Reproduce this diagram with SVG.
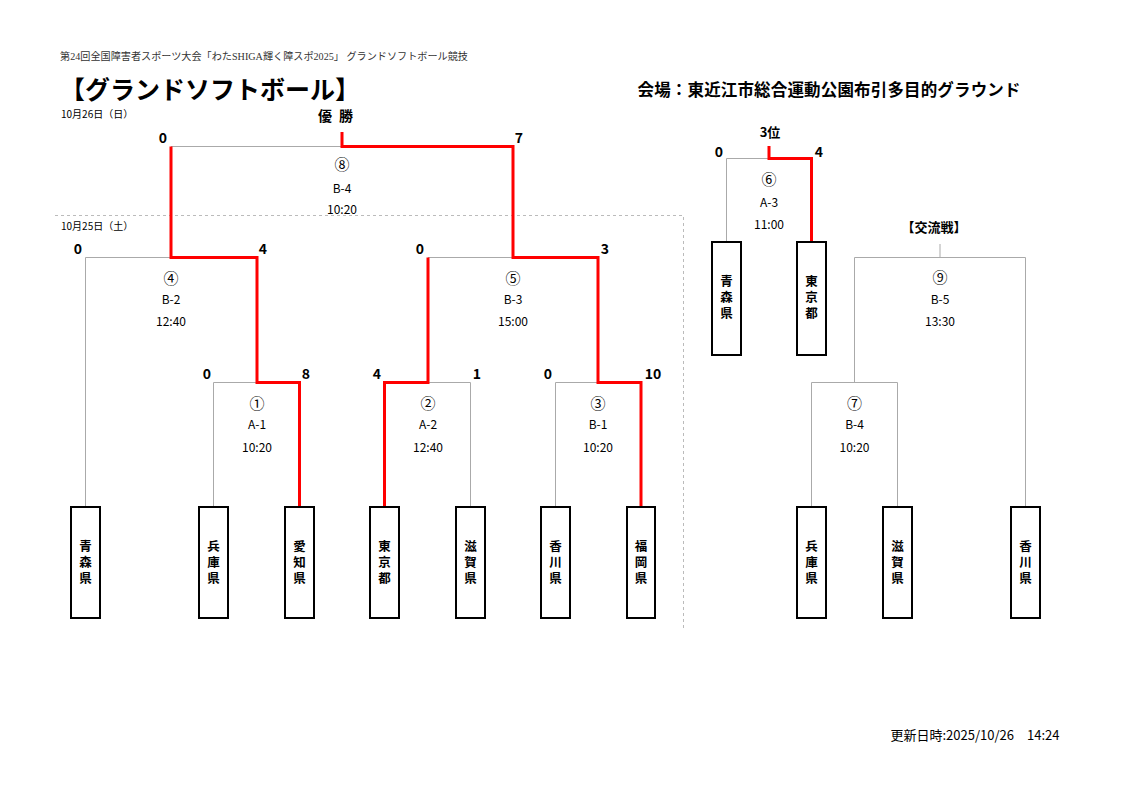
<svg xmlns="http://www.w3.org/2000/svg" width="1122" height="794" viewBox="0 0 1122 794">
<style>
text{font-family:"Noto Sans CJK JP","Liberation Sans",sans-serif;fill:#000}
.hdr{font-family:"Liberation Serif","Noto Sans CJK JP",serif;font-size:10px;fill:#333}
.title{font-size:25px;font-weight:bold}
.venue{font-size:16.5px;font-weight:bold}
.date{font-size:10px}
.sc{font-size:14px;font-weight:bold;text-anchor:middle}
.lb{font-size:12px;text-anchor:middle}
.cn{font-size:15px;text-anchor:middle}
.bx{fill:#fff;stroke:#000;stroke-width:2}
.bt{font-size:12.5px;font-weight:bold;text-anchor:middle;writing-mode:vertical-rl;letter-spacing:3.5px}
.g{fill:none;stroke:#aaa;stroke-width:1}
.r{fill:none;stroke:#f00;stroke-width:3}
.dash{fill:none;stroke:#bbb;stroke-width:1;stroke-dasharray:3 3}
</style>
<rect width="1122" height="794" fill="#fff"/>
<text class="hdr" x="60" y="60" textLength="408" lengthAdjust="spacingAndGlyphs">第24回全国障害者スポーツ大会「わたSHIGA輝く障スポ2025」 グランドソフトボール競技</text>
<text class="title" x="60" y="99">【グランドソフトボール】</text>
<text class="venue" x="829" y="96" text-anchor="middle" textLength="383">会場：東近江市総合運動公園布引多目的グラウンド</text>
<text class="date" x="61" y="118">10月26日（日）</text>
<text class="date" x="61" y="230">10月25日（土）</text>
<text x="325" y="121" font-size="14" font-weight="bold" text-anchor="middle">優</text>
<text x="346" y="121" font-size="14" font-weight="bold" text-anchor="middle">勝</text>
<text x="770" y="137" font-size="13" font-weight="bold" text-anchor="middle">3位</text>
<text x="934" y="232" font-size="13" font-weight="bold" text-anchor="middle">【交流戦】</text>
<text x="975" y="740" font-size="13" text-anchor="middle">更新日時:2025/10/26　14:24</text>
<path class="dash" d="M55 215.5H683.5V630"/>
<g id="connectors">
<path class="g" d="M171 146.5H342"/>
<path class="g" d="M85.5 507V257.5H171"/>
<path class="g" d="M213.5 507V382.5H257"/>
<path class="g" d="M428 257.5H513"/>
<path class="g" d="M428 382.5H470.5V507"/>
<path class="g" d="M555.5 507V382.5H598"/>
<path class="g" d="M726.5 242V158.5H769"/>
<path class="g" d="M811.5 507V382.5H897.5V507"/>
<path class="g" d="M854.5 382.5V257.5H1025.5V507"/>
<path class="g" d="M940 244V257.5"/>
<path class="r" d="M342 132V146.5H513V257.5H598V382.5H641V507"/>
<path class="r" d="M171 146.5V257.5H257V382.5H299.5V507"/>
<path class="r" d="M384.5 507V382.5H428V257.5"/>
<path class="r" d="M769 146V158.5H811.5V242"/>
</g>
<g id="m8"><text class="sc" x="163" y="143">0</text><text class="sc" x="519" y="143">7</text><text class="cn" x="342" y="170">⑧</text><text class="lb" x="342" y="193">B-4</text><text class="lb" x="342" y="214">10:20</text></g>
<g id="m4"><text class="sc" x="78" y="254">0</text><text class="sc" x="263" y="254">4</text><text class="cn" x="171" y="284">④</text><text class="lb" x="171" y="304">B-2</text><text class="lb" x="171" y="326">12:40</text></g>
<g id="m5"><text class="sc" x="420" y="254">0</text><text class="sc" x="605" y="254">3</text><text class="cn" x="513" y="284">⑤</text><text class="lb" x="513" y="304">B-3</text><text class="lb" x="513" y="326">15:00</text></g>
<g id="m1"><text class="sc" x="207" y="379">0</text><text class="sc" x="306" y="379">8</text><text class="cn" x="257" y="409">①</text><text class="lb" x="257" y="429">A-1</text><text class="lb" x="257" y="452">10:20</text></g>
<g id="m2"><text class="sc" x="377" y="379">4</text><text class="sc" x="477" y="379">1</text><text class="cn" x="428" y="409">②</text><text class="lb" x="428" y="429">A-2</text><text class="lb" x="428" y="452">12:40</text></g>
<g id="m3"><text class="sc" x="548" y="379">0</text><text class="sc" x="653" y="379">10</text><text class="cn" x="598" y="409">③</text><text class="lb" x="598" y="429">B-1</text><text class="lb" x="598" y="452">10:20</text></g>
<g id="m6"><text class="sc" x="719" y="157">0</text><text class="sc" x="819" y="157">4</text><text class="cn" x="769" y="185">⑥</text><text class="lb" x="769" y="207">A-3</text><text class="lb" x="769" y="229">11:00</text></g>
<g id="m9"><text class="cn" x="940" y="283">⑨</text><text class="lb" x="940" y="304">B-5</text><text class="lb" x="940" y="326">13:30</text></g>
<g id="m7"><text class="cn" x="854.5" y="409">⑦</text><text class="lb" x="854.5" y="429">B-4</text><text class="lb" x="854.5" y="452">10:20</text></g>
<g id="t-aomori1"><rect class="bx" x="71" y="507" width="29" height="111"/><text class="bt" x="85.5" y="564">青森県</text></g>
<g id="t-hyogo1"><rect class="bx" x="199" y="507" width="29" height="111"/><text class="bt" x="213.5" y="564">兵庫県</text></g>
<g id="t-aichi"><rect class="bx" x="285" y="507" width="29" height="111"/><text class="bt" x="299.5" y="564">愛知県</text></g>
<g id="t-tokyo1"><rect class="bx" x="370" y="507" width="29" height="111"/><text class="bt" x="384.5" y="564">東京都</text></g>
<g id="t-shiga1"><rect class="bx" x="456" y="507" width="29" height="111"/><text class="bt" x="470.5" y="564">滋賀県</text></g>
<g id="t-kagawa1"><rect class="bx" x="541" y="507" width="29" height="111"/><text class="bt" x="555.5" y="564">香川県</text></g>
<g id="t-fukuoka"><rect class="bx" x="627" y="507" width="28" height="111"/><text class="bt" x="641" y="564">福岡県</text></g>
<g id="t-aomori2"><rect class="bx" x="712" y="242" width="29" height="113"/><text class="bt" x="726.5" y="299">青森県</text></g>
<g id="t-tokyo2"><rect class="bx" x="797" y="242" width="29" height="113"/><text class="bt" x="811.5" y="299">東京都</text></g>
<g id="t-hyogo2"><rect class="bx" x="797" y="507" width="29" height="111"/><text class="bt" x="811.5" y="564">兵庫県</text></g>
<g id="t-shiga2"><rect class="bx" x="883" y="507" width="29" height="111"/><text class="bt" x="897.5" y="564">滋賀県</text></g>
<g id="t-kagawa2"><rect class="bx" x="1011" y="507" width="29" height="111"/><text class="bt" x="1025.5" y="564">香川県</text></g>
</svg>
